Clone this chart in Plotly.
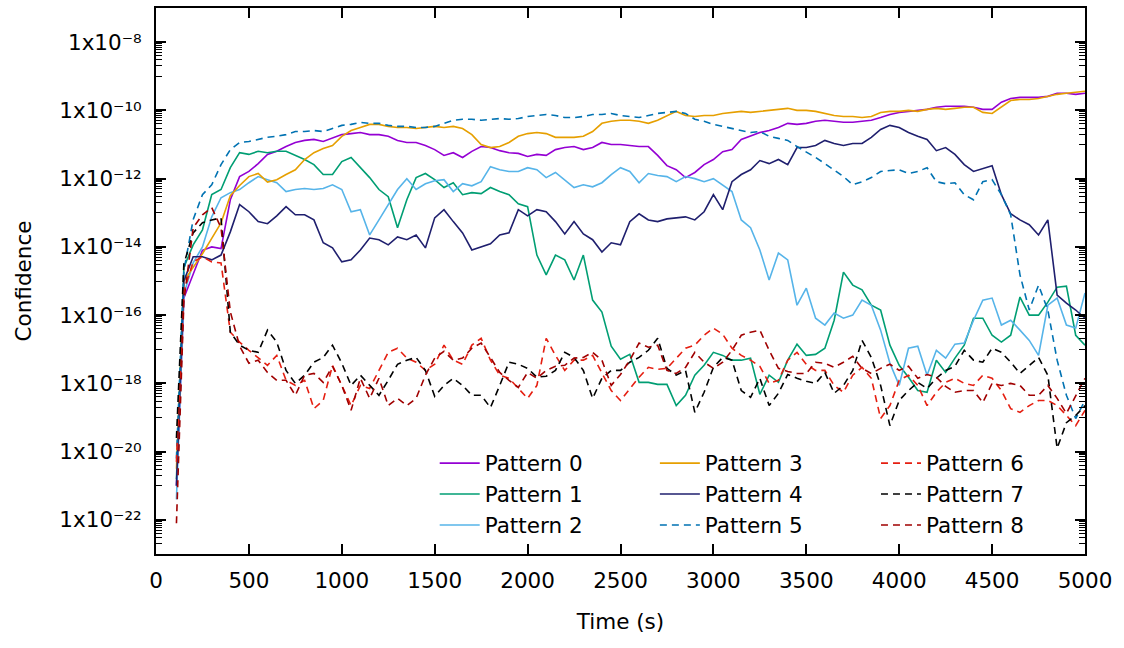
import plotly.graph_objects as go

# Time axis (s)
time_s = [110, 150, 200, 250, 300, 350, 400, 450, 500, 550,
          600, 650, 700, 750, 800, 850, 900, 950, 1000, 1050,
          1100, 1150, 1200, 1250, 1300, 1350, 1400, 1450, 1500, 1550,
          1600, 1650, 1700, 1750, 1800, 1850, 1900, 1950, 2000, 2050,
          2100, 2150, 2200, 2250, 2300, 2350, 2400, 2450, 2500, 2550,
          2600, 2650, 2700, 2750, 2800, 2850, 2900, 2950, 3000, 3050,
          3100, 3150, 3200, 3250, 3300, 3350, 3400, 3450, 3500, 3550,
          3600, 3650, 3700, 3750, 3800, 3850, 3900, 3950, 4000, 4050,
          4100, 4150, 4200, 4250, 4300, 4350, 4400, 4450, 4500, 4550,
          4600, 4650, 4700, 4750, 4800, 4850, 4900, 4950, 5000]

# Confidence values, stored as log10 exponents
pattern0_log10 = [-21.0, -15.5, -14.8, -14.1, -14.0, -14.05, -12.62, -11.94, -11.79, -11.56,
                  -11.29, -11.2, -11.06, -10.94, -10.88, -10.85, -10.91, -10.82, -10.71, -10.68,
                  -10.65, -10.71, -10.71, -10.76, -10.88, -10.94, -10.94, -11.03, -11.15, -11.32,
                  -11.24, -11.38, -11.2, -11.06, -11.09, -11.18, -11.24, -11.26, -11.35, -11.29,
                  -11.32, -11.15, -11.09, -11.06, -11.15, -11.09, -10.94, -11.0, -11.0, -11.03,
                  -11.06, -11.06, -11.32, -11.62, -11.74, -11.97, -11.82, -11.59, -11.44, -11.21,
                  -11.15, -10.85, -10.74, -10.65, -10.59, -10.5, -10.38, -10.41, -10.38, -10.32,
                  -10.29, -10.32, -10.35, -10.35, -10.32, -10.29, -10.21, -10.12, -10.06, -10.03,
                  -10.0, -9.97, -9.91, -9.88, -9.88, -9.88, -9.91, -9.97, -9.97, -9.76,
                  -9.65, -9.62, -9.62, -9.62, -9.59, -9.5, -9.5, -9.53, -9.5]

pattern1_log10 = [-20.8, -14.6, -13.94, -13.5, -12.47, -12.32, -11.68, -11.24, -11.29, -11.2,
                  -11.24, -11.2, -11.2, -11.32, -11.44, -11.59, -11.88, -11.88, -11.5, -11.38,
                  -11.68, -11.97, -12.32, -12.53, -13.44, -12.62, -11.97, -11.85, -12.03, -12.26,
                  -12.12, -12.47, -12.41, -12.44, -12.26, -12.38, -12.47, -12.74, -12.82, -14.24,
                  -14.82, -14.24, -14.38, -14.97, -14.24, -15.56, -15.91, -16.91, -17.29, -17.15,
                  -17.97, -17.97, -18.03, -18.03, -18.65, -18.35, -17.76, -17.47, -17.09, -17.18,
                  -17.32, -17.32, -17.26, -18.32, -17.76, -17.97, -17.32, -16.85, -17.18, -17.15,
                  -16.97, -16.15, -14.74, -15.12, -15.26, -15.71, -15.85, -16.88, -17.47, -17.82,
                  -18.21, -18.26, -17.32, -17.68, -17.26, -16.88, -16.09, -16.09, -16.59, -16.79,
                  -16.59, -15.47, -16.0, -16.0, -15.62, -15.18, -15.15, -16.59, -16.88]

pattern2_log10 = [-21.4, -15.4, -14.47, -14.0, -13.12, -12.56, -12.41, -12.32, -12.12, -11.94,
                  -12.03, -12.12, -12.38, -12.32, -12.29, -12.32, -12.29, -12.18, -12.32, -12.97,
                  -12.91, -13.65, -13.21, -12.76, -12.32, -12.0, -12.32, -12.15, -12.06, -12.03,
                  -12.38, -12.15, -12.21, -12.09, -11.65, -11.74, -11.79, -11.79, -11.68, -11.74,
                  -11.97, -11.82, -12.03, -12.26, -12.18, -12.24, -12.12, -11.88, -11.68, -11.79,
                  -12.12, -11.85, -11.91, -11.94, -12.09, -11.94, -12.0, -12.09, -12.0, -12.18,
                  -12.38, -13.21, -13.44, -14.09, -14.97, -14.18, -14.38, -15.71, -15.21, -16.09,
                  -16.29, -15.94, -16.09, -16.0, -15.56, -15.71, -16.44, -17.41, -18.06, -16.97,
                  -16.91, -17.76, -17.03, -17.26, -16.85, -16.82, -16.15, -15.56, -15.5, -16.29,
                  -16.15, -16.44, -16.74, -17.18, -15.71, -15.5, -16.29, -16.38, -15.35]

pattern3_log10 = [-20.5, -15.0, -14.6, -14.2, -13.75, -13.3, -12.5, -12.2, -11.94, -11.85,
                  -12.1, -12.03, -11.88, -11.74, -11.44, -11.24, -11.12, -11.03, -10.76, -10.59,
                  -10.5, -10.41, -10.41, -10.47, -10.5, -10.5, -10.53, -10.5, -10.47, -10.5,
                  -10.47, -10.53, -10.71, -11.0, -11.09, -11.06, -10.94, -10.76, -10.68, -10.65,
                  -10.68, -10.79, -10.79, -10.79, -10.76, -10.62, -10.38, -10.32, -10.29, -10.29,
                  -10.32, -10.38, -10.29, -10.15, -10.03, -10.15, -10.18, -10.15, -10.15, -10.09,
                  -10.06, -10.03, -10.06, -10.03, -10.0, -9.97, -9.94, -10.0, -10.0, -10.03,
                  -10.09, -10.15, -10.18, -10.18, -10.21, -10.18, -10.06, -10.03, -10.03, -10.0,
                  -10.03, -9.97, -9.94, -9.97, -9.94, -9.91, -9.91, -10.06, -10.09, -9.91,
                  -9.71, -9.68, -9.68, -9.65, -9.59, -9.53, -9.5, -9.47, -9.44]

pattern4_log10 = [-21.0, -15.0, -14.29, -14.29, -14.38, -14.24, -13.56, -12.76, -12.97, -13.26,
                  -13.32, -13.09, -12.82, -13.06, -13.06, -13.21, -13.88, -14.03, -14.44, -14.38,
                  -14.09, -13.74, -13.79, -13.94, -13.71, -13.79, -13.65, -14.03, -13.15, -12.91,
                  -13.26, -13.59, -14.09, -14.0, -13.91, -13.65, -13.59, -12.91, -13.09, -12.91,
                  -12.97, -13.26, -13.62, -13.26, -13.62, -13.79, -14.15, -13.88, -13.94, -13.26,
                  -13.03, -13.21, -13.26, -13.18, -13.15, -13.12, -13.21, -12.97, -12.47, -12.91,
                  -12.09, -11.88, -11.74, -11.47, -11.56, -11.44, -11.59, -11.09, -11.09, -11.03,
                  -10.88, -10.97, -11.03, -10.97, -10.97, -10.79, -10.56, -10.44, -10.5, -10.65,
                  -10.76, -10.85, -11.18, -11.09, -11.29, -11.59, -11.79, -11.71, -11.62, -12.47,
                  -13.03, -13.21, -13.35, -13.65, -13.21, -15.41, -15.65, -15.85, -16.09]

pattern5_log10 = [-20.2, -14.7, -13.2, -12.47, -12.18, -11.59, -11.15, -10.94, -10.91, -10.85,
                  -10.79, -10.76, -10.71, -10.62, -10.62, -10.59, -10.62, -10.53, -10.44, -10.41,
                  -10.35, -10.38, -10.38, -10.44, -10.47, -10.47, -10.5, -10.5, -10.47, -10.38,
                  -10.29, -10.26, -10.26, -10.29, -10.26, -10.24, -10.26, -10.24, -10.18, -10.15,
                  -10.12, -10.15, -10.21, -10.21, -10.18, -10.12, -10.12, -10.09, -10.15, -10.18,
                  -10.21, -10.15, -10.09, -10.06, -10.03, -10.09, -10.26, -10.32, -10.41, -10.47,
                  -10.53, -10.59, -10.65, -10.62, -10.76, -10.82, -10.88, -11.06, -11.21, -11.38,
                  -11.56, -11.74, -11.94, -12.18, -12.09, -11.97, -11.79, -11.76, -11.74, -11.85,
                  -11.79, -11.68, -12.09, -12.15, -12.12, -12.47, -12.62, -12.09, -12.03, -12.47,
                  -13.06, -14.82, -15.85, -15.12, -15.85, -17.32, -18.35, -19.03, -18.5]

pattern6_log10 = [-20.3, -15.3, -14.44, -14.29, -14.44, -14.47, -16.5, -16.79, -17.03, -17.26,
                  -17.47, -17.18, -17.91, -18.06, -17.91, -18.74, -18.5, -17.47, -18.06, -18.65,
                  -18.06, -18.15, -17.62, -17.09, -16.97, -17.26, -17.38, -17.62, -17.44, -16.88,
                  -17.32, -17.44, -16.88, -16.68, -17.32, -17.76, -17.85, -18.15, -18.44, -18.06,
                  -16.68, -17.18, -17.62, -17.32, -17.32, -17.18, -17.68, -18.21, -18.5, -18.15,
                  -17.82, -17.53, -17.59, -17.56, -17.26, -16.97, -16.88, -16.59, -16.38, -16.56,
                  -16.97, -17.18, -17.32, -17.5, -18.0, -17.91, -17.32, -17.09, -17.44, -17.62,
                  -17.62, -18.06, -18.26, -17.76, -17.53, -17.85, -19.03, -18.65, -17.91, -17.76,
                  -18.06, -18.65, -18.26, -17.97, -17.85, -18.0, -18.06, -17.76, -17.85, -18.21,
                  -18.74, -18.85, -18.65, -18.5, -18.5, -18.65, -18.94, -19.24, -18.79]

pattern7_log10 = [-19.6, -14.5, -13.59, -13.29, -13.21, -13.15, -16.5, -16.88, -17.03, -17.09,
                  -16.44, -16.79, -17.62, -18.0, -17.76, -17.38, -17.24, -16.88, -17.41, -18.06,
                  -17.76, -18.06, -18.35, -17.91, -17.44, -17.32, -17.24, -17.62, -18.38, -18.06,
                  -17.85, -18.06, -18.35, -18.35, -18.71, -18.06, -17.38, -17.44, -17.56, -17.82,
                  -17.79, -17.62, -17.09, -17.24, -17.62, -18.44, -17.85, -17.62, -17.62, -17.38,
                  -17.24, -17.03, -16.68, -17.56, -17.76, -17.62, -18.85, -18.26, -17.53, -17.24,
                  -17.32, -18.21, -18.41, -17.85, -18.65, -18.29, -17.74, -17.85, -17.94, -18.0,
                  -17.68, -18.29, -18.06, -17.62, -16.74, -17.24, -18.06, -19.24, -18.5, -18.21,
                  -17.97, -18.15, -17.85, -17.62, -17.5, -17.03, -17.32, -17.38, -16.97, -17.09,
                  -17.38, -17.71, -17.47, -17.24, -17.76, -19.9, -19.15, -18.94, -18.65]

pattern8_log10 = [-22.1, -15.6, -13.44, -13.06, -12.85, -13.44, -15.9, -16.91, -17.41, -17.32,
                  -17.68, -17.91, -17.91, -18.35, -17.76, -17.71, -17.97, -17.5, -18.06, -18.79,
                  -17.85, -18.44, -17.85, -18.65, -18.44, -18.65, -18.44, -17.76, -17.26, -17.06,
                  -17.32, -17.26, -16.97, -16.82, -17.24, -17.68, -17.91, -18.12, -17.68, -17.85,
                  -17.62, -17.5, -17.47, -17.26, -17.24, -17.09, -17.32, -18.06, -17.74, -17.32,
                  -16.82, -16.94, -16.88, -17.62, -17.71, -17.53, -17.09, -17.38, -17.56, -17.38,
                  -17.03, -16.59, -16.5, -16.44, -17.03, -17.56, -17.65, -17.71, -17.71, -17.38,
                  -17.41, -17.53, -17.38, -17.21, -17.56, -17.71, -17.56, -17.44, -17.62, -17.5,
                  -17.85, -17.74, -17.82, -18.09, -18.26, -18.21, -18.21, -18.56, -18.0, -18.06,
                  -18.0, -18.06, -18.35, -18.35, -18.06, -18.44, -18.88, -18.35, -17.85]

series_names = ["Pattern 0", "Pattern 1", "Pattern 2", "Pattern 3", "Pattern 4",
                "Pattern 5", "Pattern 6", "Pattern 7", "Pattern 8"]
series_log10 = [pattern0_log10, pattern1_log10, pattern2_log10, pattern3_log10, pattern4_log10,
                pattern5_log10, pattern6_log10, pattern7_log10, pattern8_log10]

x_tick_vals = [0, 500, 1000, 1500, 2000, 2500, 3000, 3500, 4000, 4500, 5000]
y_tick_exponents = [-8, -10, -12, -14, -16, -18, -20, -22]
y_tick_labels = ["1x10\u207b\u2078", "1x10\u207b\u00b9\u2070", "1x10\u207b\u00b9\u00b2",
                 "1x10\u207b\u00b9\u2074", "1x10\u207b\u00b9\u2076", "1x10\u207b\u00b9\u2078",
                 "1x10\u207b\u00b2\u2070", "1x10\u207b\u00b2\u00b2"]
y_minor_decades = [-9, -11, -13, -15, -17, -19, -21, -23]
y_minor_mantissas = [1, 2, 3, 4, 5, 6, 7, 8, 9]

colors = ["#9400d3", "#009e73", "#56b4e9", "#e69f00", "#1f1f6e",
          "#0072b2", "#e51e10", "#000000", "#a00000"]
dashes = ["solid", "solid", "solid", "solid", "solid",
          "7px,5px", "7px,5px", "7px,5px", "7px,5px"]
legend_ids = ["legend", "legend", "legend", "legend2", "legend2", "legend2",
              "legend3", "legend3", "legend3"]

FONT = "DejaVu Sans, Verdana, sans-serif"
FSIZE = 21.5

fig = go.Figure()
for name, logs, col, dsh, lg in zip(series_names, series_log10, colors, dashes, legend_ids):
    fig.add_trace(go.Scatter(
        x=time_s, y=[10.0 ** v for v in logs], mode="lines", name=name,
        line=dict(color=col, width=1.6, dash=dsh), legend=lg,
    ))

legend_common = dict(yanchor="top", y=0.204, xanchor="left", bgcolor="rgba(0,0,0,0)",
                     font=dict(family=FONT, size=FSIZE, color="black"), borderwidth=0,
                     itemwidth=40, tracegroupgap=0)

minor_vals = [m * 10.0 ** d for d in y_minor_decades for m in y_minor_mantissas]

fig.update_layout(
    width=1124, height=648,
    margin=dict(l=156, r=39, t=8, b=94, autoexpand=False),
    plot_bgcolor="white", paper_bgcolor="white",
    font=dict(family=FONT, size=FSIZE, color="black"),
    showlegend=True,
    legend=dict(x=0.300, **legend_common),
    legend2=dict(x=0.537, **legend_common),
    legend3=dict(x=0.775, **legend_common),
    xaxis=dict(
        range=[0, 5000], tickmode="array", tickvals=x_tick_vals,
        ticks="inside", ticklen=10, tickwidth=1.5, tickcolor="black",
        mirror="allticks", showline=True, linecolor="black", linewidth=2,
        showgrid=False, zeroline=False, ticklabelstandoff=6,
        tickfont=dict(family=FONT, size=FSIZE),
        title=dict(text="Time (s)", standoff=22, font=dict(family=FONT, size=FSIZE)),
    ),
    yaxis=dict(
        type="log", range=[-23, -7], tickmode="array",
        tickvals=[10.0 ** e for e in y_tick_exponents],
        ticktext=y_tick_labels,
        ticks="inside", ticklen=10, tickwidth=1.5, tickcolor="black",
        mirror="allticks", showline=True, linecolor="black", linewidth=2,
        showgrid=False, zeroline=False, ticklabelstandoff=8,
        tickfont=dict(family=FONT, size=FSIZE),
        minor=dict(tickmode="array", tickvals=minor_vals, ticks="inside", ticklen=6,
                   tickwidth=1, tickcolor="black", showgrid=False),
        title=dict(text="Confidence", standoff=22, font=dict(family=FONT, size=FSIZE)),
    ),
)

fig.write_html("out.html", config={"displayModeBar": False},
               post_script="document.body.style.margin='0';")
